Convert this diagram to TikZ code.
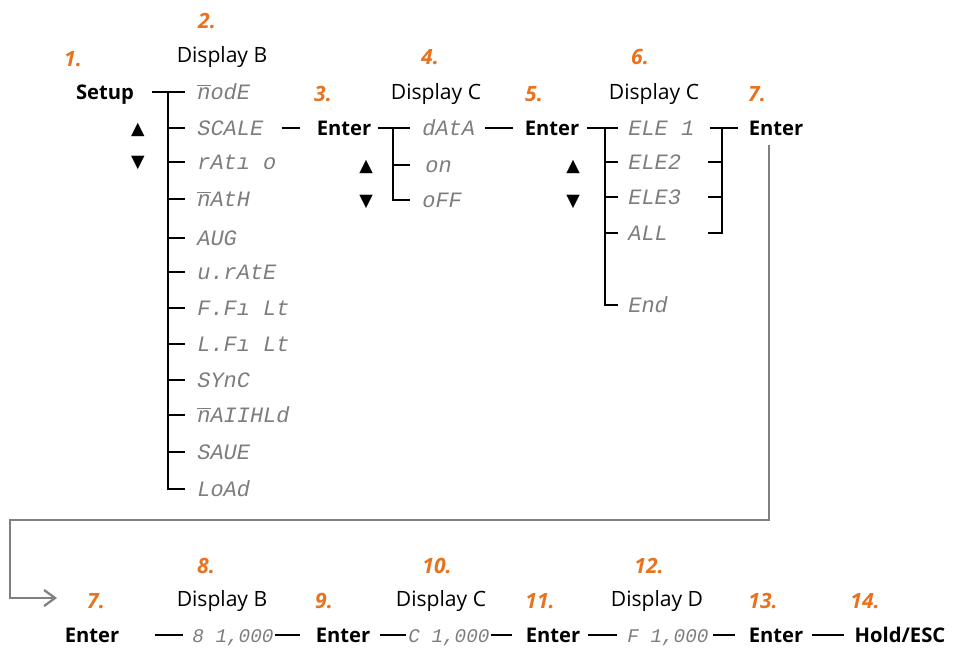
\documentclass[tikz,border=0pt]{standalone}
\usepackage{fontspec}
\setmainfont{Open Sans}
\newfontfamily\segfont{Liberation Mono}
\newfontfamily\symfont{DejaVu Sans}
\usetikzlibrary{arrows.meta,positioning,calc}
\definecolor{steporange}{RGB}{232,114,29}
\definecolor{seggray}{RGB}{125,125,125}
\definecolor{loopgray}{RGB}{128,128,128}
\newcommand{\barn}{\ensuremath{\overline{\mbox{n}}}}

\begin{document}
\begin{tikzpicture}[x=0.02cm, y=-0.02cm,
  num/.style={font=\fontsize{12}{14}\selectfont\bfseries\itshape, text=steporange, inner sep=0pt, text height=8.5pt, text depth=0pt},
  head/.style={font=\fontsize{12}{14}\selectfont, inner sep=0pt, text height=8.5pt, text depth=0pt},
  key/.style={font=\fontsize{11.5}{14}\selectfont\bfseries, inner sep=0pt, text height=8.2pt, text depth=0pt},
  seg/.style={font=\segfont\itshape\fontsize{12.5}{14}\selectfont, text=seggray, anchor=west, inner sep=0pt, text height=8.2pt, text depth=0pt},
  segs/.style={seg, font=\segfont\itshape\fontsize{11}{13}\selectfont},
  tri/.style={font=\symfont\fontsize{10}{12}\selectfont, inner sep=0pt},
  tree/.style={line width=1.2pt, black},
  loopline/.style={line width=1.3pt, loopgray, -{Straight Barb[length=2.2mm, width=3.2mm]}}
]
\useasboundingbox (0,0) rectangle (955,648);

% ================= STEP 1-2: SETUP / DISPLAY B =================
\node[num] (n1) at (73,59) {1.};
\node[key] (setup) at (105,92) {Setup};
\node[num] (n2) at (207,21) {2.};
\node[head] (dispB) at (222,55) {Display B};
\node[tri] (up1) at (138,130) {▲};
\node[tri] (dn1) at (138,163) {▼};

\foreach \k/\y/\lbl in {1/92/{\barn odE}, 2/128/SCALE, 3/162/{rAt\i{} o}, 4/199/{\barn AtH},
    5/238/AUG, 6/272/{u.rAtE}, 7/308/{F.F\i{} Lt}, 8/344/{L.F\i{} Lt}, 9/380/SYnC,
    10/415/{\barn AIIHLd}, 11/452/SAUE, 12/489/LoAd}
  \node[seg] (b\k) at (197,\y) {\lbl};

\coordinate (trB) at (168,92);
\draw[tree, shorten <=0.36cm, shorten >=0.24cm] (setup.east) -- (b1.west);
\draw[tree, shorten >=0.24cm] (trB) |- (b12.west);
\foreach \k in {2,...,11}
  \draw[tree, shorten >=0.24cm] (trB |- b\k.west) -- (b\k.west);

% ================= STEP 3-4: ENTER / DISPLAY C =================
\node[num] (n3) at (323,94) {3.};
\node[key] (e3) at (344,128) {Enter};
\node[num] (n4) at (430,57) {4.};
\node[head] (dispC1) at (436,92) {Display C};
\node[tri] (up2) at (366,167) {▲};
\node[tri] (dn2) at (366,202) {▼};

\node[seg] (c1) at (422,128) {dAtA};
\node[seg] (c2) at (425,165) {on};
\node[seg] (c3) at (422,200) {oFF};

\coordinate (trC) at (393,128);
\draw[tree, shorten <=0.36cm, shorten >=0.32cm] (b2.east) -- (e3.west);
\draw[tree, shorten <=0.12cm, shorten >=0.24cm] (e3.east) -- (c1.west);
\draw[tree, shorten >=0.24cm] (trC) |- (c3.west);
\draw[tree, shorten >=0.3cm] (trC |- c2.west) -- (c2.west);

% ================= STEP 5-7: ENTER / DISPLAY C / ENTER =================
\node[num] (n5) at (534,94) {5.};
\node[key] (e5) at (552,128) {Enter};
\node[num] (n6) at (640,57) {6.};
\node[head] (dispC2) at (654,92) {Display C};
\node[num] (n7) at (757,94) {7.};
\node[key] (e7) at (776,128) {Enter};
\node[tri] (up3) at (573,167) {▲};
\node[tri] (dn3) at (573,202) {▼};

\foreach \k/\y/\lbl in {1/128/{ELE 1}, 2/162/ELE2, 3/197/ELE3, 4/233/ALL, 5/305/End}
  \node[seg] (d\k) at (628,\y) {\lbl};

\coordinate (trD) at (605,128);
\coordinate (tkD) at (708,128);
\coordinate (brD) at (722,128);
\draw[tree, shorten <=0.2cm, shorten >=0.22cm] (c1.east) -- (e5.west);
\draw[tree, shorten <=0.14cm, shorten >=0.2cm] (e5.east) -- (d1.west);
\draw[tree, shorten >=0.2cm] (trD) |- (d5.west);
\foreach \k in {2,3,4}
  \draw[tree, shorten >=0.2cm] (trD |- d\k.west) -- (d\k.west);
\draw[tree, shorten <=0.3cm, shorten >=0.2cm] (d1.east) -- (e7.west);
\draw[tree] (brD) |- (tkD |- d4.east);
\foreach \k in {2,3}
  \draw[tree] (tkD |- d\k.east) -- (brD |- d\k.east);

% --- back to the second row ---
\coordinate (back) at (57,598);
\draw[loopline, shorten <=0.18cm] ([xshift=-0.14cm]e7.south) |- (10,520) |- (back);

% ================= STEP 7-14: SECOND ROW =================
\node[num] (m7) at (96,601) {7.};
\node[key] (f7) at (92,635) {Enter};
\node[num] (n8) at (206,566) {8.};
\node[head] (dispB2) at (222,599) {Display B};
\node[segs] (g1) at (192,635) {8 1,000};
\node[num] (n9) at (324,601) {9.};
\node[key] (e9) at (343,635) {Enter};
\node[num] (n10) at (437,566) {10.};
\node[head] (dispC3) at (441,599) {Display C};
\node[segs] (g2) at (408,635) {C 1,000};
\node[num] (n11) at (540,601) {11.};
\node[key] (e11) at (553,635) {Enter};
\node[num] (n12) at (649,566) {12.};
\node[head] (dispD) at (657,599) {Display D};
\node[segs] (g3) at (627,635) {F 1,000};
\node[num] (n13) at (763,601) {13.};
\node[key] (e13) at (776,635) {Enter};
\node[num] (n14) at (865,601) {14.};
\node[key] (hold) at (900,635) {Hold/ESC};

\draw[tree, shorten <=0.7cm, shorten >=0.18cm] (f7.east) -- (g1.west);
\draw[tree, shorten <=0.02cm, shorten >=0.3cm] (g1.east) -- (e9.west);
\draw[tree, shorten <=0.18cm, shorten >=0.04cm] (e9.east) -- (g2.west);
\draw[tree, shorten <=0.02cm, shorten >=0.26cm] (g2.east) -- (e11.west);
\draw[tree, shorten <=0.14cm, shorten >=0.2cm] (e11.east) -- (g3.west);
\draw[tree, shorten <=0.08cm, shorten >=0.26cm] (g3.east) -- (e13.west);
\draw[tree, shorten <=0.16cm, shorten >=0.2cm] (e13.east) -- (hold.west);
\end{tikzpicture}
\end{document}
